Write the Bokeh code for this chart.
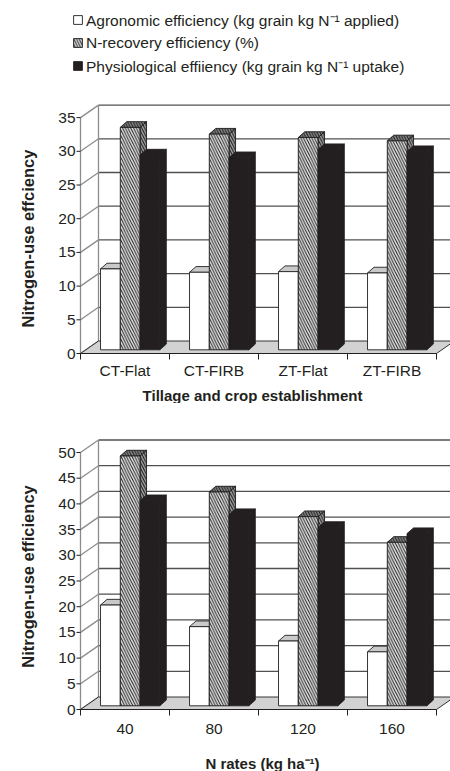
import math
from bokeh.plotting import figure
from bokeh.models import Range1d, Legend, LegendItem
from bokeh.core.properties import value
from bokeh.layouts import column
from bokeh.embed import file_html
from bokeh.resources import INLINE

# ---------------- data ----------------
series_names = [
    "Agronomic efficiency (kg grain kg N\u207b\u00b9 applied)",
    "N-recovery efficiency (%)",
    "Physiological effiiency (kg grain kg N\u207b\u00b9 uptake)",
]

tillage_cats = ["CT-Flat", "CT-FIRB", "ZT-Flat", "ZT-FIRB"]
tillage_agronomic = [12.0, 11.5, 11.6, 11.4]
tillage_nrecovery = [33.0, 32.0, 31.5, 31.0]
tillage_physiol = [28.9, 28.5, 29.7, 29.4]
tillage_ticks = [0, 5, 10, 15, 20, 25, 30, 35]

nrate_cats = ["40", "80", "120", "160"]
nrate_agronomic = [19.6, 15.4, 12.6, 10.5]
nrate_nrecovery = [48.6, 41.6, 36.8, 31.8]
nrate_physiol = [39.9, 37.2, 34.7, 33.5]
nrate_ticks = [0, 5, 10, 15, 20, 25, 30, 35, 40, 45, 50]

FONT = "Liberation Sans"
INK = "#231f20"

# geometry in pixels (converted to data units per chart)
W = 450
AXIS_X = 80.0        # pixel column of the value axis
PX_PER_CAT = 89.0
WALL_DX, WALL_DY = 18.0, 12.5
BAR_DX, BAR_DY = 6.5, 5.7
BAR_LIFT = 3.7
BAR_OFF = 0.225     # start of cluster within category (category units)
BAR_W = 0.222       # bar width (category units)

HATCH = dict(hatch_pattern="\\", hatch_scale=5.5, hatch_weight=1.5)
STYLES = [
    dict(front=dict(fill_color="white"),
         top=dict(fill_color="#c9c9c9"),
         side=dict(fill_color="#e8e8e8")),
    dict(front=dict(fill_color="#1c1c1c", hatch_color="#e4e4e4", **HATCH),
         top=dict(fill_color="#161616", hatch_color="#8a8a8a", **HATCH),
         side=dict(fill_color="#161616", hatch_color="#a0a0a0", **HATCH)),
    dict(front=dict(fill_color=INK),
         top=dict(fill_color=INK),
         side=dict(fill_color=INK)),
]


def make_chart(cats, series, ticks, height, axis_y, px_per_unit,
               ylabel, ylabel_xy, xlabel, xlabel_xy, cat_label_dy, with_legend):
    def dx(px):
        return px / PX_PER_CAT

    def dy(px):
        return px / px_per_unit

    x_start = -dx(AXIS_X)
    x_end = dx(W - AXIS_X)
    y_start = -dy(height - axis_y)
    y_end = dy(axis_y)
    p = figure(width=W, height=height, output_backend="svg",
               toolbar_location=None, x_range=Range1d(x_start, x_end),
               y_range=Range1d(y_start, y_end), x_axis_type=None,
               y_axis_type=None, min_border=0)
    p.outline_line_color = None
    p.grid.visible = False

    wdx, wdy = dx(WALL_DX), dy(WALL_DY)
    bdx, bdy = dx(BAR_DX), dy(BAR_DY)
    lift = dy(BAR_LIFT)
    n = len(cats)
    top_tick = ticks[-1]

    # back wall gridlines
    gl = [t for t in ticks if t > 0]
    p.segment(x0=[wdx] * len(gl), y0=[t + wdy for t in gl],
              x1=[x_end] * len(gl), y1=[t + wdy for t in gl],
              line_color="#505050", line_width=1.3)
    # side wall diagonals and left edge
    p.segment(x0=[0] * len(ticks), y0=ticks, x1=[wdx] * len(ticks),
              y1=[t + wdy for t in ticks], line_color="#8c8c8c", line_width=1.3)
    p.segment(x0=[wdx], y0=[wdy], x1=[wdx], y1=[top_tick + wdy],
              line_color="#8c8c8c", line_width=1.3)
    # value axis line and ticks
    p.segment(x0=[0], y0=[0], x1=[0], y1=[top_tick], line_color="#8c8c8c",
              line_width=1.3)
    p.segment(x0=[0] * len(ticks), y0=ticks, x1=[dx(-4)] * len(ticks), y1=ticks,
              line_color=INK, line_width=1)
    p.text(x=[dx(-5)] * len(ticks), y=ticks, text=[str(t) for t in ticks],
           text_align="right", text_baseline="middle", text_font=value(FONT),
           text_font_size="15.5px", text_color=INK)
    # floor
    p.patch(x=[0, n, n + wdx, wdx], y=[0, 0, wdy, wdy], fill_color="#d2d2d2",
            line_color=INK, line_width=0.9)

    renderers = []
    for s, vals in enumerate(series):
        st = STYLES[s]
        left = [i + BAR_OFF + s * BAR_W for i in range(n)]
        right = [l + BAR_W for l in left]
        bottom = [lift] * n
        top = [v + lift for v in vals]
        sx = [[r, r, r + bdx, r + bdx] for r in right]
        sy = [[b, t, t + bdy, b + bdy] for b, t in zip(bottom, top)]
        p.patches(xs=sx, ys=sy, line_color=INK, line_width=0.9, **st["side"])
        tx = [[l, r, r + bdx, l + bdx] for l, r in zip(left, right)]
        ty = [[t, t, t + bdy, t + bdy] for t in top]
        p.patches(xs=tx, ys=ty, line_color=INK, line_width=0.9, **st["top"])
        fr = p.quad(left=left, right=right, bottom=bottom, top=top,
                    line_color=INK, line_width=0.9, **st["front"])
        renderers.append(fr)

    # category axis
    p.segment(x0=[0], y0=[0], x1=[n], y1=[0], line_color=INK, line_width=1)
    bounds = list(range(n + 1))
    p.segment(x0=bounds, y0=[0] * len(bounds), x1=bounds,
              y1=[dy(-6)] * len(bounds), line_color=INK, line_width=1)
    p.text(x=[i + 0.5 for i in range(n)], y=[dy(-cat_label_dy)] * n, text=cats,
           text_align="center", text_baseline="middle", text_font=value(FONT),
           text_font_size="15.5px", text_color=INK)

    # axis titles
    p.text(x=[dx(ylabel_xy[0] - AXIS_X)], y=[dy(axis_y - ylabel_xy[1])],
           text=[ylabel], angle=math.pi / 2, text_align="center",
           text_baseline="middle", text_font=value(FONT),
           text_font_size="16.5px", text_font_style="bold", text_color=INK)
    p.text(x=[dx(xlabel_xy[0] - AXIS_X)], y=[dy(axis_y - xlabel_xy[1])],
           text=[xlabel], text_align="center", text_baseline="middle",
           text_font=value(FONT), text_font_size="15px",
           text_font_style="bold", text_color=INK)

    if with_legend:
        items = [LegendItem(label=nm, renderers=[r])
                 for nm, r in zip(series_names, renderers)]
        lg = Legend(items=items, location=(72, height - 76.5), padding=0,
                    margin=0, spacing=3, label_height=18, glyph_height=11,
                    glyph_width=11, label_standoff=3,
                    label_text_font=FONT, label_text_font_size="15.5px",
                    label_text_color=INK, border_line_color=None,
                    background_fill_alpha=0)
        p.add_layout(lg)
    return p


p1 = make_chart(tillage_cats, [tillage_agronomic, tillage_nrecovery, tillage_physiol],
                tillage_ticks, 403, 353, 6.74,
                "Nitrogen-use effciency", (27, 238),
                "Tillage and crop establishment", (252, 395), 17, True)
p2 = make_chart(nrate_cats, [nrate_agronomic, nrate_nrecovery, nrate_physiol],
                nrate_ticks, 368, 306, 5.14,
                "Nitrogen-use efficiency", (27, 576 - 403),
                "N rates (kg ha\u207b\u00b9)", (262, 763 - 403), 19, False)

layout = column(p1, p2, spacing=0)
open("out.html", "w").write(file_html(layout, INLINE))
